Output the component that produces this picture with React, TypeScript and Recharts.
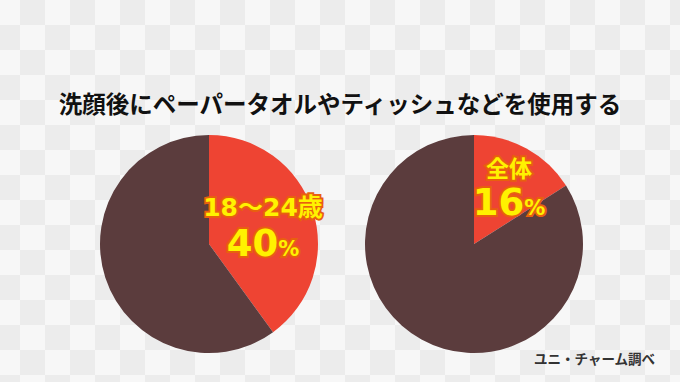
import React from 'react';
import { PieChart, Pie, Cell } from 'recharts';

const title = '洗顔後にペーパータオルやティッシュなどを使用する';
const source = 'ユニ・チャーム調べ';

const groups = ['18〜24歳', '全体'];
const useShare = [40, 16];
const sliceNames = ['使用する', 'その他'];

const RED = '#EE4433';
const BROWN = '#5B3C3D';
const FONT = '"Noto Sans CJK JP", "Noto Sans", sans-serif';
const LABEL_FONT = '"DejaVu Sans", "Noto Sans CJK JP", sans-serif';

const makeData = (i: number) => [
  { name: sliceNames[0], value: useShare[i] },
  { name: sliceNames[1], value: 100 - useShare[i] },
];

const labelStyle = {
  fill: '#FFF200',
  stroke: '#E8600E',
  strokeWidth: 4,
  paintOrder: 'stroke' as const,
  fontFamily: LABEL_FONT,
  fontWeight: 700,
};

// label for the red slice only, placed relative to the pie centre
function makeLabel(i: number, dx: number, dy: number, gap: number, groupSize: number) {
  return (props: any) => {
    if (props.index !== 0) return null;
    const x = props.cx + dx;
    const y = props.cy + dy;
    return (
      <g>
        <text x={x} y={y} textAnchor="middle" style={{ ...labelStyle, fontSize: groupSize }}>
          {groups[i]}
        </text>
        <text x={x} y={y + gap} textAnchor="middle" style={{ ...labelStyle, fontSize: 37 }}>
          {useShare[i]}
          <tspan style={{ fontSize: 21 }}>%</tspan>
        </text>
      </g>
    );
  };
}

export default function App() {
  return (
    <div
      style={{
        position: 'absolute',
        left: 0,
        top: 0,
        width: 680,
        height: 382,
        overflow: 'hidden',
        backgroundColor: '#F6F6F6',
        backgroundImage: 'repeating-conic-gradient(#ECECEC 0% 25%, #F7F7F7 0% 50%)',
        backgroundSize: '50px 50px',
        backgroundPosition: '-5px 0px',
      }}
    >
      <div
        style={{
          position: 'absolute',
          left: 0,
          width: 680,
          top: 86,
          textAlign: 'center',
          fontFamily: FONT,
          fontWeight: 700,
          fontSize: 23.5,
          color: '#111',
        }}
      >
        {title}
      </div>
      <div style={{ position: 'absolute', left: 0, top: 0 }}>
        <PieChart width={680} height={382} margin={{ top: 0, right: 0, bottom: 0, left: 0 }}>
          <Pie
            data={makeData(0)}
            dataKey="value"
            cx={209}
            cy={244}
            outerRadius={109}
            startAngle={90}
            endAngle={-270}
            stroke="none"
            labelLine={false}
            label={makeLabel(0, 54, -28, 40, 25)}
            isAnimationActive={false}
          >
            <Cell fill={RED} />
            <Cell fill={BROWN} />
          </Pie>
          <Pie
            data={makeData(1)}
            dataKey="value"
            cx={474}
            cy={244}
            outerRadius={109}
            startAngle={90}
            endAngle={-270}
            stroke="none"
            labelLine={false}
            label={makeLabel(1, 35, -67, 38, 23)}
            isAnimationActive={false}
          >
            <Cell fill={RED} />
            <Cell fill={BROWN} />
          </Pie>
        </PieChart>
      </div>
      <div
        style={{
          position: 'absolute',
          right: 25,
          top: 348,
          fontFamily: FONT,
          fontWeight: 700,
          fontSize: 13.5,
          color: '#333',
        }}
      >
        {source}
      </div>
    </div>
  );
}
